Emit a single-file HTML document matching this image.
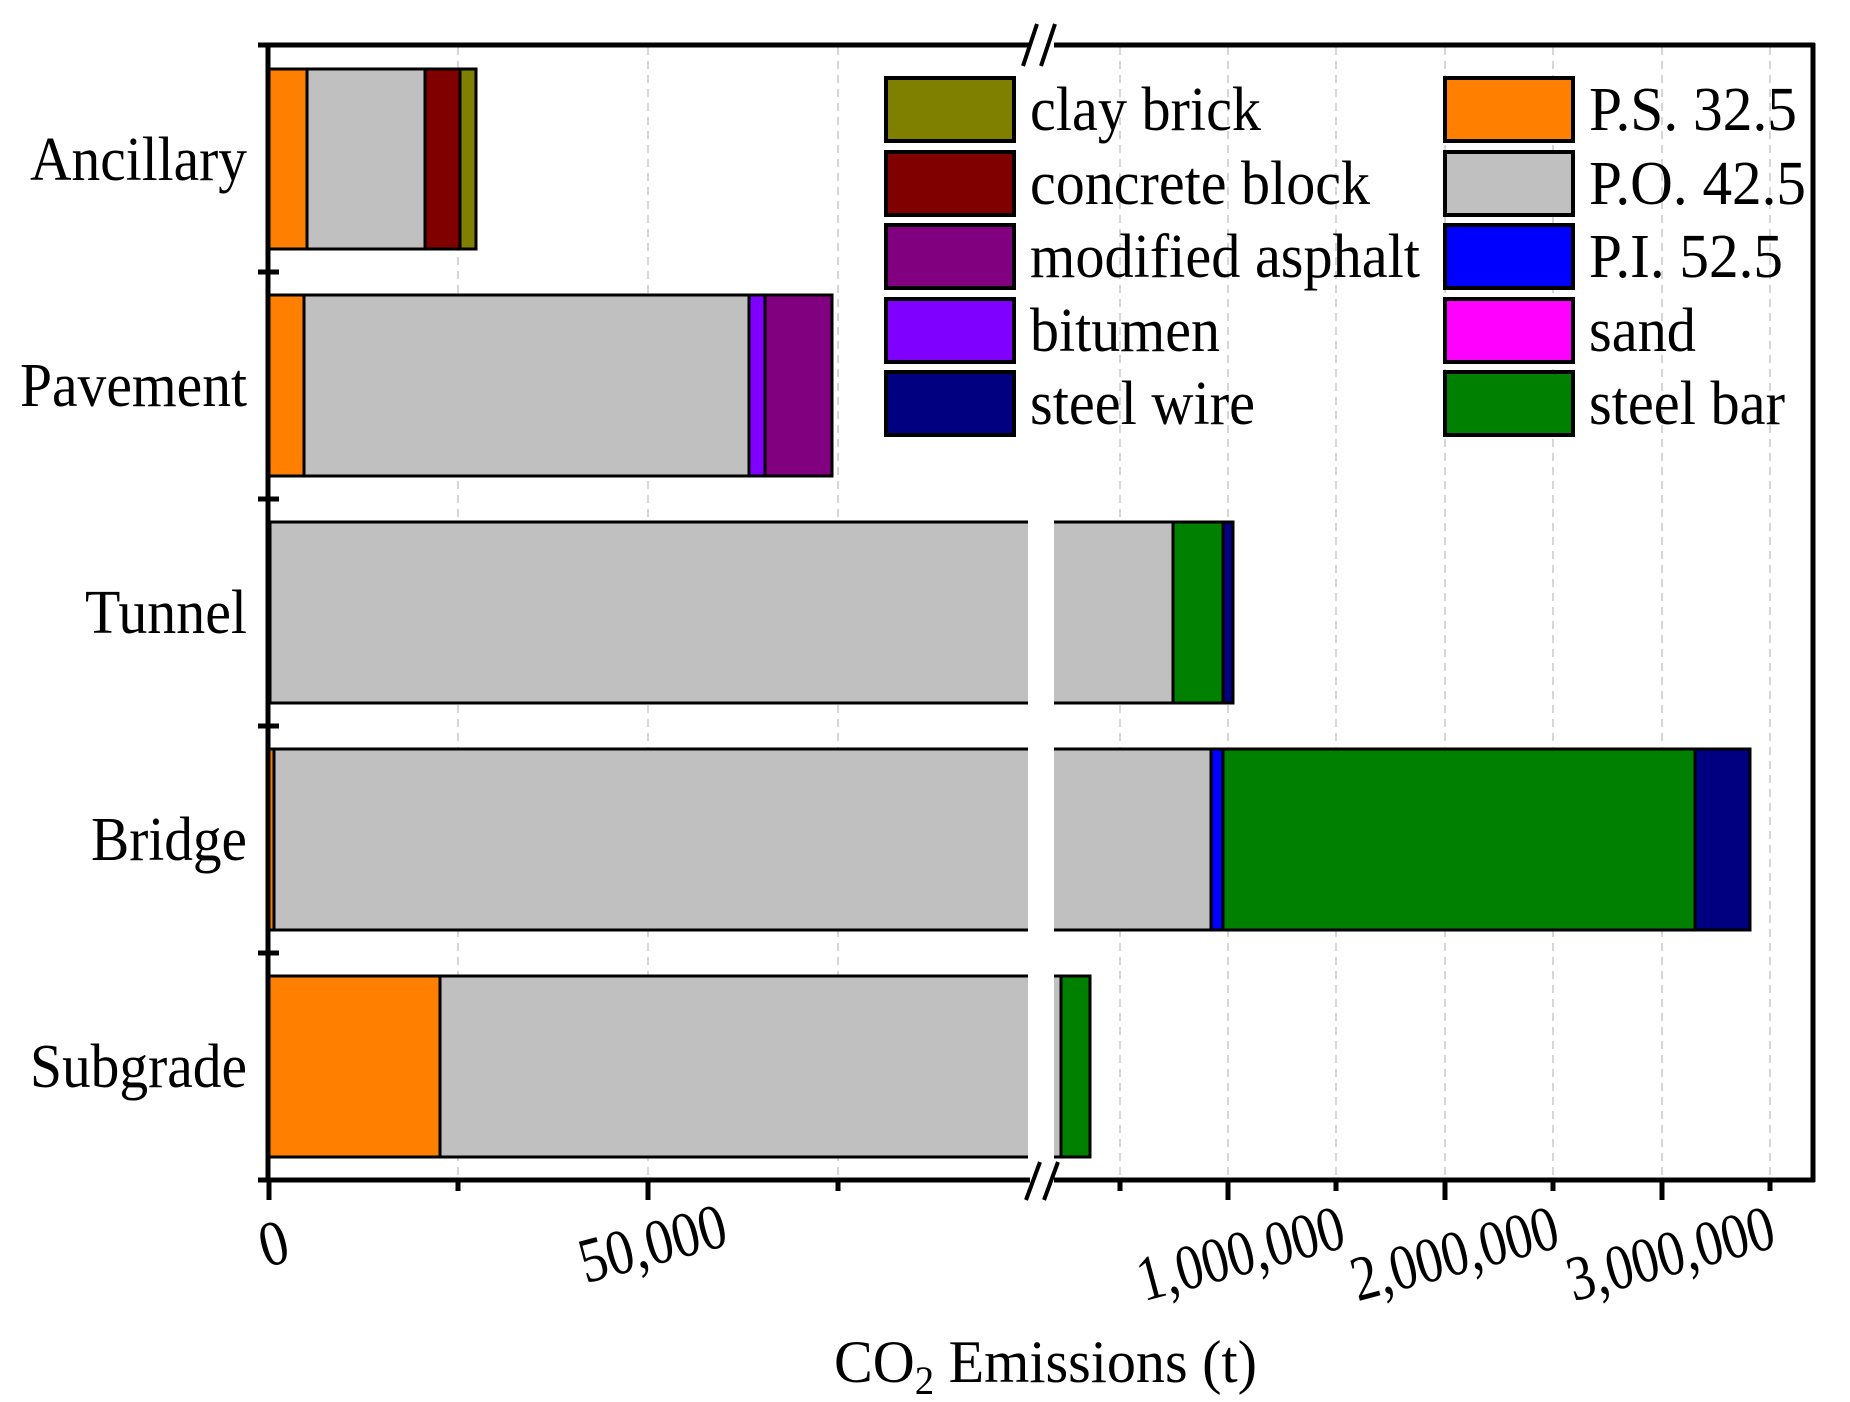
<!DOCTYPE html>
<html><head><meta charset="utf-8"><style>
html,body{margin:0;padding:0;background:#fff;}
svg{display:block;}
text{font-family:"Liberation Serif",serif;fill:#000;}
</style></head><body>
<svg width="1850" height="1402" viewBox="0 0 1850 1402" xmlns="http://www.w3.org/2000/svg">
<g stroke="#c8c8c8" stroke-width="1.5" stroke-dasharray="8,6">
<line x1="458" y1="47" x2="458" y2="1178"/>
<line x1="648" y1="47" x2="648" y2="1178"/>
<line x1="838" y1="47" x2="838" y2="1178"/>
<line x1="1120" y1="47" x2="1120" y2="1178"/>
<line x1="1228" y1="47" x2="1228" y2="1178"/>
<line x1="1336" y1="47" x2="1336" y2="1178"/>
<line x1="1445" y1="47" x2="1445" y2="1178"/>
<line x1="1553" y1="47" x2="1553" y2="1178"/>
<line x1="1662" y1="47" x2="1662" y2="1178"/>
<line x1="1770" y1="47" x2="1770" y2="1178"/>
</g>
<g stroke="#000" stroke-width="3">
<rect x="269" y="69" width="38" height="180" fill="#ff8000"/>
<rect x="307" y="69" width="118" height="180" fill="#c0c0c0"/>
<rect x="425" y="69" width="35" height="180" fill="#800000"/>
<rect x="460" y="69" width="16" height="180" fill="#808000"/>
<rect x="269" y="295" width="35" height="181" fill="#ff8000"/>
<rect x="304" y="295" width="445" height="181" fill="#c0c0c0"/>
<rect x="749" y="295" width="16" height="181" fill="#8000ff"/>
<rect x="765" y="295" width="67" height="181" fill="#800080"/>
<rect x="270" y="522" width="903" height="181" fill="#c0c0c0"/>
<rect x="1173" y="522" width="50" height="181" fill="#008000"/>
<rect x="1223" y="522" width="10" height="181" fill="#000080"/>
<rect x="269" y="749" width="5" height="181" fill="#ff8000"/>
<rect x="274" y="749" width="937" height="181" fill="#c0c0c0"/>
<rect x="1211" y="749" width="12" height="181" fill="#0000ff"/>
<rect x="1223" y="749" width="472" height="181" fill="#008000"/>
<rect x="1695" y="749" width="55" height="181" fill="#000080"/>
<rect x="269" y="976" width="171" height="181" fill="#ff8000"/>
<rect x="440" y="976" width="621" height="181" fill="#c0c0c0"/>
<rect x="1061" y="976" width="29" height="181" fill="#008000"/>
</g>
<rect x="1028" y="515" width="26" height="650" fill="#fff"/>
<g stroke="#000" stroke-width="5" fill="none">
<line x1="258" y1="45" x2="1815" y2="45"/>
<line x1="268" y1="43" x2="268" y2="1182"/>
<line x1="1813" y1="43" x2="1813" y2="1182"/>
<line x1="266" y1="1180" x2="1815" y2="1180"/>
</g>
<g stroke="#000" stroke-width="5">
<line x1="258" y1="272" x2="279" y2="272"/>
<line x1="258" y1="499" x2="279" y2="499"/>
<line x1="258" y1="726" x2="279" y2="726"/>
<line x1="258" y1="953" x2="279" y2="953"/>
<line x1="258" y1="1180" x2="279" y2="1180"/>
<line x1="269" y1="1180" x2="269" y2="1200"/>
<line x1="648" y1="1180" x2="648" y2="1200"/>
<line x1="1228" y1="1180" x2="1228" y2="1200"/>
<line x1="1445" y1="1180" x2="1445" y2="1200"/>
<line x1="1662" y1="1180" x2="1662" y2="1200"/>
<line x1="458" y1="1180" x2="458" y2="1191"/>
<line x1="838" y1="1180" x2="838" y2="1191"/>
<line x1="1120" y1="1180" x2="1120" y2="1191"/>
<line x1="1336" y1="1180" x2="1336" y2="1191"/>
<line x1="1553" y1="1180" x2="1553" y2="1191"/>
<line x1="1770" y1="1180" x2="1770" y2="1191"/>
</g>
<rect x="1030" y="38" width="24" height="14" fill="#fff"/>
<rect x="1030" y="1173" width="24" height="14" fill="#fff"/>
<g stroke="#000" stroke-width="4">
<line x1="1023" y1="66" x2="1037" y2="24"/>
<line x1="1041" y1="66" x2="1055" y2="24"/>
<line x1="1026" y1="1200" x2="1040" y2="1162"/>
<line x1="1044" y1="1200" x2="1058" y2="1162"/>
</g>
<g font-size="62" text-anchor="end">
<text x="247" y="180" textLength="217" lengthAdjust="spacingAndGlyphs">Ancillary</text>
<text x="247" y="406" textLength="227" lengthAdjust="spacingAndGlyphs">Pavement</text>
<text x="247" y="633" textLength="162" lengthAdjust="spacingAndGlyphs">Tunnel</text>
<text x="247" y="860" textLength="156" lengthAdjust="spacingAndGlyphs">Bridge</text>
<text x="247" y="1087" textLength="217" lengthAdjust="spacingAndGlyphs">Subgrade</text>
</g>
<g font-size="64" text-anchor="middle">
<text transform="translate(279,1264) rotate(-15)" textLength="28" lengthAdjust="spacingAndGlyphs">0</text>
<text transform="translate(658,1264) rotate(-15)" textLength="150" lengthAdjust="spacingAndGlyphs">50,000</text>
<text transform="translate(1246,1274) rotate(-15)" textLength="212" lengthAdjust="spacingAndGlyphs">1,000,000</text>
<text transform="translate(1460,1274) rotate(-15)" textLength="212" lengthAdjust="spacingAndGlyphs">2,000,000</text>
<text transform="translate(1676,1274) rotate(-15)" textLength="212" lengthAdjust="spacingAndGlyphs">3,000,000</text>
</g>
<text x="834" y="1382" font-size="60" textLength="423" lengthAdjust="spacingAndGlyphs">CO<tspan font-size="40" dy="12">2</tspan><tspan dy="-12"> Emissions (t)</tspan></text>
<g stroke="#000" stroke-width="4">
<rect x="886" y="78" width="128" height="63" fill="#808000"/>
<rect x="886" y="152" width="128" height="63" fill="#800000"/>
<rect x="886" y="225" width="128" height="63" fill="#800080"/>
<rect x="886" y="299" width="128" height="63" fill="#8000ff"/>
<rect x="886" y="372" width="128" height="63" fill="#000080"/>
<rect x="1445" y="78" width="128" height="63" fill="#ff8000"/>
<rect x="1445" y="152" width="128" height="63" fill="#c0c0c0"/>
<rect x="1445" y="225" width="128" height="63" fill="#0000ff"/>
<rect x="1445" y="299" width="128" height="63" fill="#ff00ff"/>
<rect x="1445" y="372" width="128" height="63" fill="#008000"/>
</g>
<g font-size="62">
<text x="1030" y="130" textLength="231" lengthAdjust="spacingAndGlyphs">clay brick</text>
<text x="1030" y="204" textLength="340" lengthAdjust="spacingAndGlyphs">concrete block</text>
<text x="1030" y="277" textLength="390" lengthAdjust="spacingAndGlyphs">modified asphalt</text>
<text x="1030" y="351" textLength="190" lengthAdjust="spacingAndGlyphs">bitumen</text>
<text x="1030" y="424" textLength="225" lengthAdjust="spacingAndGlyphs">steel wire</text>
<text x="1589" y="130" textLength="208" lengthAdjust="spacingAndGlyphs">P.S. 32.5</text>
<text x="1589" y="204" textLength="217" lengthAdjust="spacingAndGlyphs">P.O. 42.5</text>
<text x="1589" y="277" textLength="194" lengthAdjust="spacingAndGlyphs">P.I. 52.5</text>
<text x="1589" y="351" textLength="107" lengthAdjust="spacingAndGlyphs">sand</text>
<text x="1589" y="424" textLength="196" lengthAdjust="spacingAndGlyphs">steel bar</text>
</g>
</svg>
</body></html>
